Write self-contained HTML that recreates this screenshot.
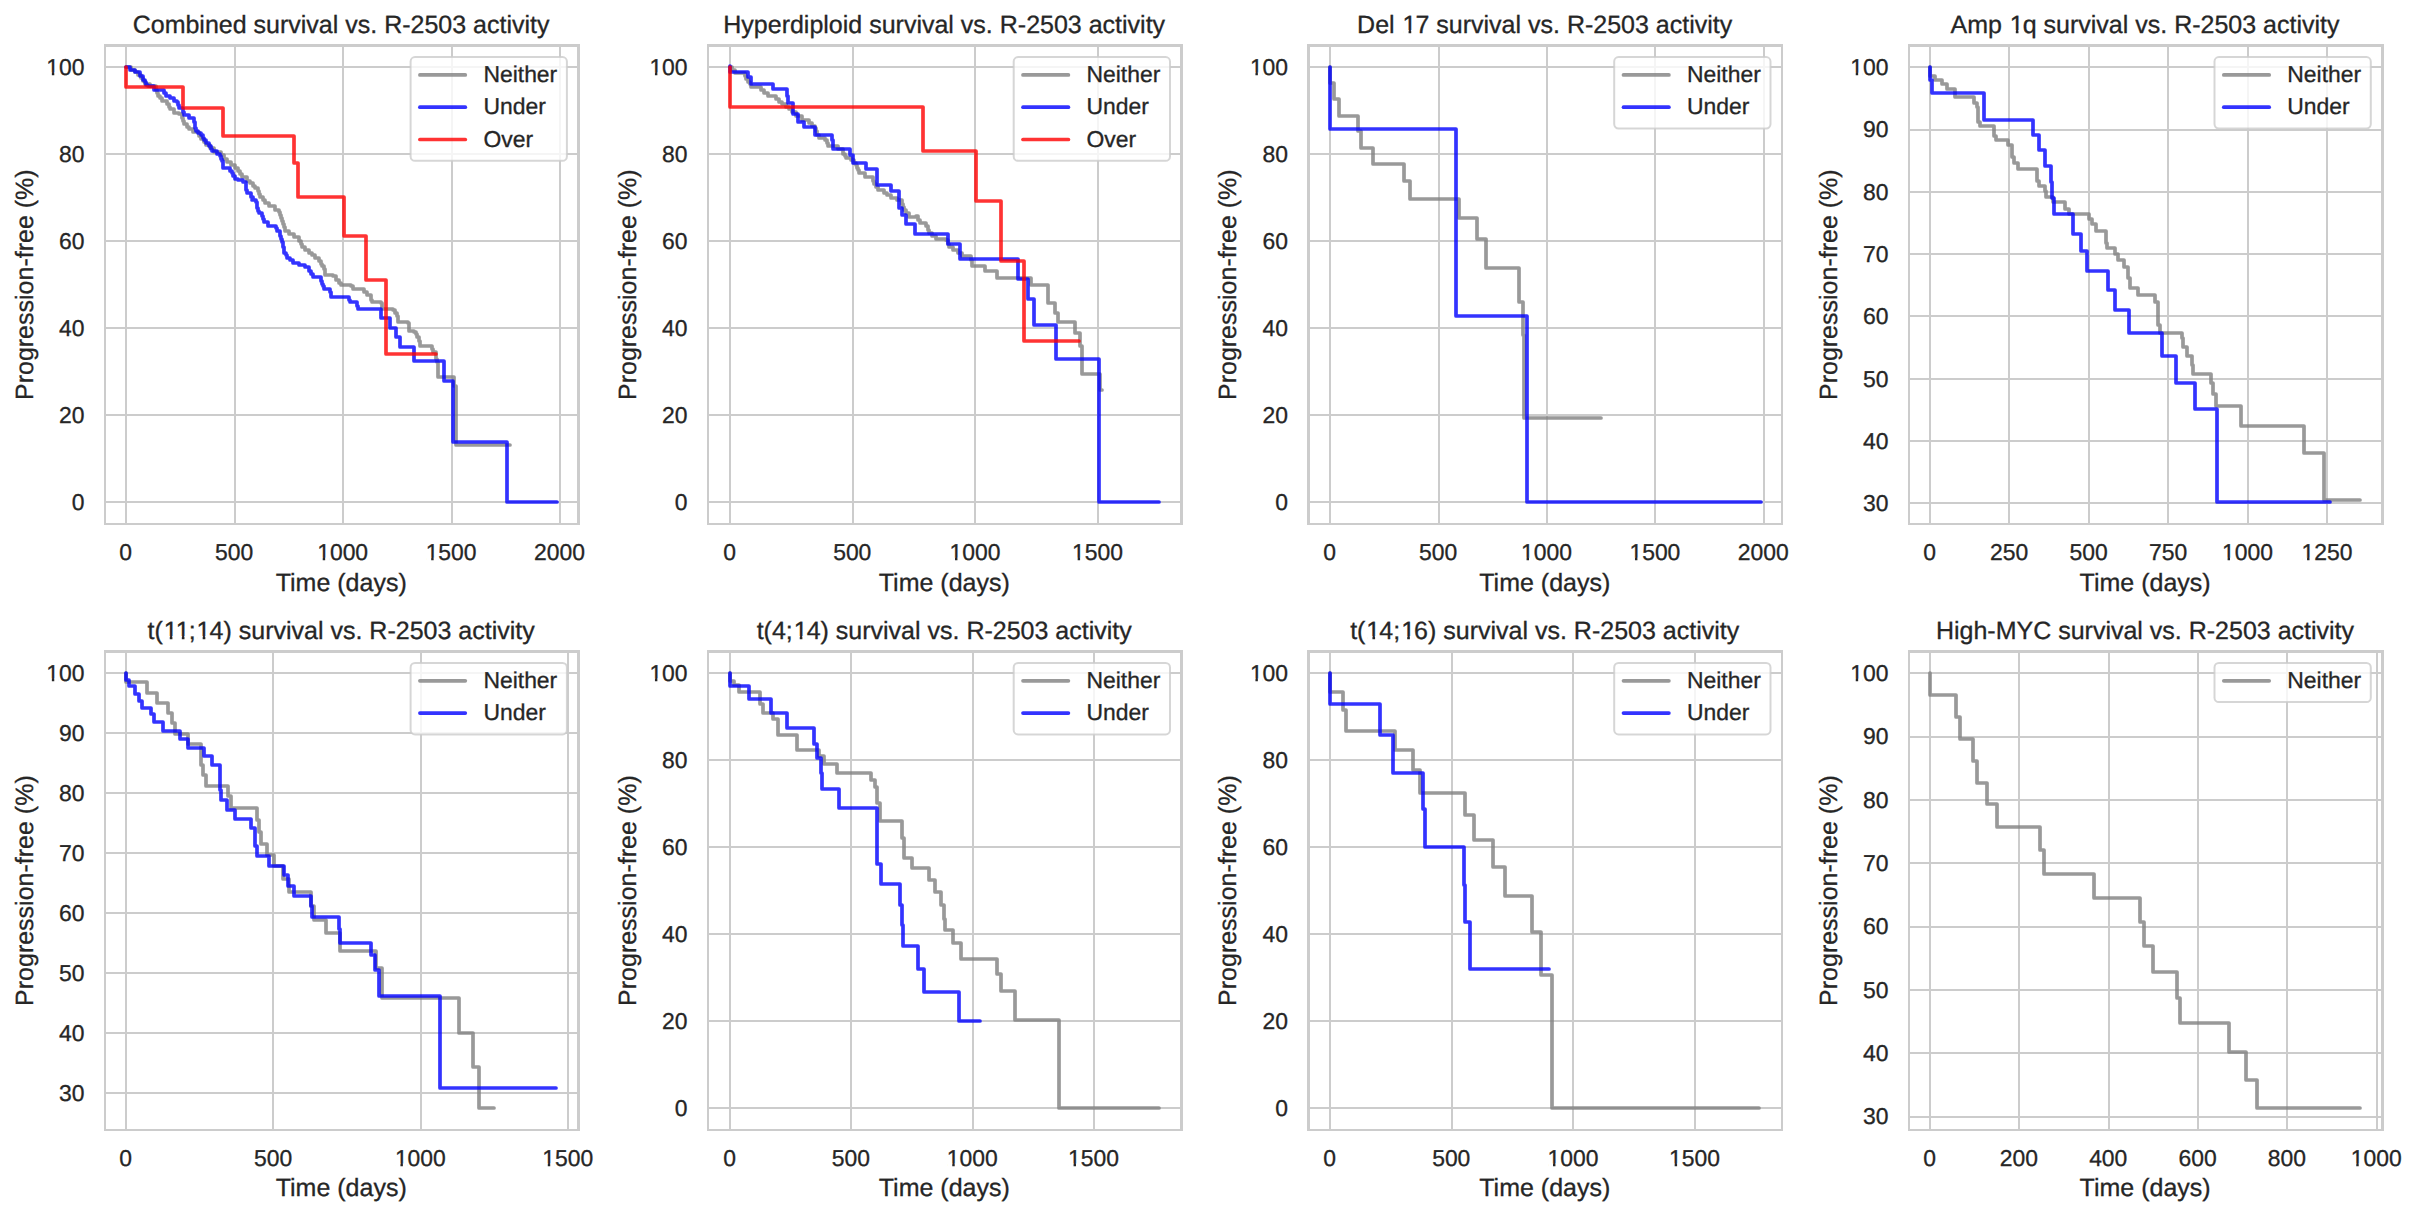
<!DOCTYPE html><html><head><meta charset="utf-8"><title>Survival vs. R-2503 activity</title>
<style>html,body{margin:0;padding:0;background:#fff;overflow:hidden;}svg{display:block;}text{font-family:"Liberation Sans", Arial, sans-serif;fill:#262626;stroke:#262626;stroke-width:0.3px;text-rendering:geometricPrecision;}</style></head><body>
<svg width="2418" height="1218" viewBox="0 0 2418 1218">
<rect width="2418" height="1218" fill="#fff"/>
<g><path d="M126 45.5V523.9M235 45.5V523.9M343 45.5V523.9M452 45.5V523.9M560 45.5V523.9M104.9 502H578.3M104.9 415H578.3M104.9 328H578.3M104.9 241H578.3M104.9 154H578.3M104.9 67H578.3" stroke="#cccccc" stroke-width="2.0" fill="none" stroke-linecap="butt"/><path d="M126 67H131 V70H135 V72H138 V75H141 V78H143 V81H145 V84H150 V86H156 V90H157 V93H158 V96H160 V98H162 V101H167 V104H169 V107H170 V109H174 V113H179 V114H182 V118H183 V121H184 V124H187 V127H189 V129H193 V132H199 V136H201 V139H204 V142H206 V145H210 V148H214 V152H221 V155H224 V159H227 V162H231 V165H235 V168H238 V171H240 V174H242 V177H247 V181H250 V183H253 V186H255 V188H258 V191H259 V194H260 V197H263 V200H265 V203H269 V206H275 V210H279 V212H280 V215H281 V218H282 V221H283 V224H284 V227H285 V231H289 V234H294 V237H299 V241H301 V244H302 V247H305 V250H309 V253H312 V255H315 V258H319 V261H321 V264H322 V266H324 V269H325 V272H325 V275H333 V276H336 V280H339 V283H341 V285H351 V286H353 V289H361 V289H364 V292H367 V295H371 V297H371 V300H372 V302H381 V303H382 V306H382 V309H393 V310H395 V313H397 V316H398 V319H398 V322H408 V323H409 V325H409 V328H409 V331H414 V332H416 V334H417 V337H419 V341H420 V343H420 V346H432 V347H432 V349H433 V352H436 V354H436 V357H436 V359H437 V362H438 V364V377H454V386H456V445H510" stroke="#808080" stroke-opacity="0.8" stroke-width="3.7" fill="none" stroke-linejoin="round" stroke-linecap="round"/><path d="M126 67H126 V67H130 V70H135 V72H140 V76H143 V80H145 V82H146 V85H148 V86H154 V90H162 V90H164 V93H166 V96H170 V98H174 V101H177 V102H178 V105H179 V108H183 V112H184 V115H189 V118H194 V122H195 V125H195 V128H196 V131H198 V133H201 V135H203 V138H204 V140H206 V143H209 V146H211 V149H212 V151H217 V154H220 V156H221 V159H222 V161H223 V164H223 V168H228 V168H230 V171H232 V173H233 V176H235 V179H238 V180H243 V182H246 V184H246 V187H246 V190H247 V193H251 V197H253 V200H252 V200H256 V202H257 V205H257 V208H258 V211H259 V213H262 V216H263 V219H264 V222H268 V226H275 V226H276 V228H277 V231H280 V233H280 V236H281 V239H282 V242H283 V245H283 V247H284 V250H284 V253H286 V255H287 V258H290 V260H293 V263H299 V265H305 V267H309 V271H311 V274H313 V277H319 V277H321 V281H322 V284H323 V286H324 V289H330 V289H330 V292H331 V294H331 V297H349 V297H349 V300H350 V302H357 V303H357 V306H358 V309H381 V309V309V318H390V328H396V337H400V347H414V361H444V381H453V442H507V502H557" stroke="#0000ff" stroke-opacity="0.8" stroke-width="3.7" fill="none" stroke-linejoin="round" stroke-linecap="round"/><path d="M126 67V87H183V108H223V136H294V163H298V197H344V236H366V280H386V354H436" stroke="#ff0000" stroke-opacity="0.8" stroke-width="3.7" fill="none" stroke-linejoin="round" stroke-linecap="round"/><path d="M104 44H580V47H104zM104 523H580V525H104zM104 44H106V525H104zM577 44H580V525H577z" fill="#cccccc"/><rect x="410.6" y="57.1" width="156.3" height="103.7" rx="4.4" ry="4.4" fill="#fff" fill-opacity="0.8" stroke="#cccccc" stroke-opacity="0.8" stroke-width="2"/><path d="M419.9 74.9H465.3" stroke="#808080" stroke-opacity="0.8" stroke-width="3.7" stroke-linecap="round"/><text x="483.4" y="81.9" font-size="22.92">Neither</text><path d="M419.9 107.2H465.3" stroke="#0000ff" stroke-opacity="0.8" stroke-width="3.7" stroke-linecap="round"/><text x="483.4" y="114.35" font-size="22.92">Under</text><path d="M419.9 139.5H465.3" stroke="#ff0000" stroke-opacity="0.8" stroke-width="3.7" stroke-linecap="round"/><text x="483.4" y="146.8" font-size="22.92">Over</text><text x="125.7" y="560.1" font-size="22.92" text-anchor="middle">0</text><text x="234.17" y="560.1" font-size="22.92" text-anchor="middle">500</text><text x="342.65" y="560.1" font-size="22.92" text-anchor="middle">1000</text><text x="451.12" y="560.1" font-size="22.92" text-anchor="middle">1500</text><text x="559.6" y="560.1" font-size="22.92" text-anchor="middle">2000</text><text x="84.5" y="509.8" font-size="22.92" text-anchor="end">0</text><text x="84.5" y="422.83" font-size="22.92" text-anchor="end">20</text><text x="84.5" y="335.86" font-size="22.92" text-anchor="end">40</text><text x="84.5" y="248.89" font-size="22.92" text-anchor="end">60</text><text x="84.5" y="161.92" font-size="22.92" text-anchor="end">80</text><text x="84.5" y="74.95" font-size="22.92" text-anchor="end">100</text><text x="341.2" y="590.5" font-size="25" text-anchor="middle">Time (days)</text><text transform="translate(32.6 284.7) rotate(-90)" font-size="25" text-anchor="middle">Progression-free (%)</text><text x="341.1" y="32.7" font-size="25" text-anchor="middle">Combined survival vs. R-2503 activity</text></g>
<g><path d="M730 45.5V523.9M853 45.5V523.9M975 45.5V523.9M1098 45.5V523.9M708 502H1181.4M708 415H1181.4M708 328H1181.4M708 241H1181.4M708 154H1181.4M708 67H1181.4" stroke="#cccccc" stroke-width="2.0" fill="none" stroke-linecap="butt"/><path d="M730 67H732 V70H735 V73H745 V76H746 V79H748 V82H750 V84H751 V87H761 V90H764 V93H768 V96H776 V99H779 V102H782 V104H786 V107H789 V109H792 V112H796 V116H802 V120H809 V123H812 V126H815 V128H816 V131H817 V135H819 V138H825 V140H827 V143H828 V146H838 V149H843 V154H845 V156H846 V158H851 V160H854 V163H856 V165H857 V168H858 V170H859 V173H865 V177H873 V181H874 V184H876 V187H878 V190H884 V193H887 V195H891 V198H897 V200H902 V204H903 V207H904 V210H906 V213H909 V217H916 V216H918 V220H920 V223H926 V226H928 V230H929 V233H932 V236H936 V239H946 V240H948 V244H949 V247H953 V250H958 V253H962 V256H971 V258H971 V260H972 V263H972 V266H985 V266H985 V268H985 V271H996 V271H997 V275H997 V278H1031V285H1048V303H1055V313H1058V322H1075V333H1080V346H1082V374H1100V390H1102" stroke="#808080" stroke-opacity="0.8" stroke-width="3.7" fill="none" stroke-linejoin="round" stroke-linecap="round"/><path d="M730 67V66V72H748V77H751V84H773V89H787V96H788V103H793V114H798V122H804V127H815V135H832V140H833V149H850V155H853V163H866V169H877V185H891V191H899V208H902V215H906V224H915V234H948V244H960V259H1018V279H1028V299H1034V325H1056V359H1099V502H1159" stroke="#0000ff" stroke-opacity="0.8" stroke-width="3.7" fill="none" stroke-linejoin="round" stroke-linecap="round"/><path d="M730 67V107H923V151H976V201H1001V261H1024V341H1079" stroke="#ff0000" stroke-opacity="0.8" stroke-width="3.7" fill="none" stroke-linejoin="round" stroke-linecap="round"/><path d="M707 44H1183V47H707zM707 523H1183V525H707zM707 44H709V525H707zM1180 44H1183V525H1180z" fill="#cccccc"/><rect x="1013.7" y="57.1" width="156.3" height="103.7" rx="4.4" ry="4.4" fill="#fff" fill-opacity="0.8" stroke="#cccccc" stroke-opacity="0.8" stroke-width="2"/><path d="M1023 74.9H1068.4" stroke="#808080" stroke-opacity="0.8" stroke-width="3.7" stroke-linecap="round"/><text x="1086.5" y="81.9" font-size="22.92">Neither</text><path d="M1023 107.2H1068.4" stroke="#0000ff" stroke-opacity="0.8" stroke-width="3.7" stroke-linecap="round"/><text x="1086.5" y="114.35" font-size="22.92">Under</text><path d="M1023 139.5H1068.4" stroke="#ff0000" stroke-opacity="0.8" stroke-width="3.7" stroke-linecap="round"/><text x="1086.5" y="146.8" font-size="22.92">Over</text><text x="729.6" y="560.1" font-size="22.92" text-anchor="middle">0</text><text x="852.26" y="560.1" font-size="22.92" text-anchor="middle">500</text><text x="974.93" y="560.1" font-size="22.92" text-anchor="middle">1000</text><text x="1097.59" y="560.1" font-size="22.92" text-anchor="middle">1500</text><text x="687.6" y="509.8" font-size="22.92" text-anchor="end">0</text><text x="687.6" y="422.83" font-size="22.92" text-anchor="end">20</text><text x="687.6" y="335.86" font-size="22.92" text-anchor="end">40</text><text x="687.6" y="248.89" font-size="22.92" text-anchor="end">60</text><text x="687.6" y="161.92" font-size="22.92" text-anchor="end">80</text><text x="687.6" y="74.95" font-size="22.92" text-anchor="end">100</text><text x="944.3" y="590.5" font-size="25" text-anchor="middle">Time (days)</text><text transform="translate(635.7 284.7) rotate(-90)" font-size="25" text-anchor="middle">Progression-free (%)</text><text x="944.2" y="32.7" font-size="25" text-anchor="middle">Hyperdiploid survival vs. R-2503 activity</text></g>
<g><path d="M1330 45.5V523.9M1439 45.5V523.9M1547 45.5V523.9M1655 45.5V523.9M1764 45.5V523.9M1308.5 502H1781.9M1308.5 415H1781.9M1308.5 328H1781.9M1308.5 241H1781.9M1308.5 154H1781.9M1308.5 67H1781.9" stroke="#cccccc" stroke-width="2.0" fill="none" stroke-linecap="butt"/><path d="M1330 67V83H1334V99H1339V116H1358V131H1361V148H1373V164H1404V181H1410V199H1459V218H1477V239H1486V268H1519V302H1523V335H1524V418H1601" stroke="#808080" stroke-opacity="0.8" stroke-width="3.7" fill="none" stroke-linejoin="round" stroke-linecap="round"/><path d="M1330 67V129H1456V316H1527V502H1761" stroke="#0000ff" stroke-opacity="0.8" stroke-width="3.7" fill="none" stroke-linejoin="round" stroke-linecap="round"/><path d="M1307 44H1783V47H1307zM1307 523H1783V525H1307zM1307 44H1310V525H1307zM1781 44H1783V525H1781z" fill="#cccccc"/><rect x="1614.2" y="57.1" width="156.3" height="71.4" rx="4.4" ry="4.4" fill="#fff" fill-opacity="0.8" stroke="#cccccc" stroke-opacity="0.8" stroke-width="2"/><path d="M1623.5 74.9H1668.9" stroke="#808080" stroke-opacity="0.8" stroke-width="3.7" stroke-linecap="round"/><text x="1687" y="81.9" font-size="22.92">Neither</text><path d="M1623.5 107.2H1668.9" stroke="#0000ff" stroke-opacity="0.8" stroke-width="3.7" stroke-linecap="round"/><text x="1687" y="114.35" font-size="22.92">Under</text><text x="1329.7" y="560.1" font-size="22.92" text-anchor="middle">0</text><text x="1438.1" y="560.1" font-size="22.92" text-anchor="middle">500</text><text x="1546.5" y="560.1" font-size="22.92" text-anchor="middle">1000</text><text x="1654.9" y="560.1" font-size="22.92" text-anchor="middle">1500</text><text x="1763.3" y="560.1" font-size="22.92" text-anchor="middle">2000</text><text x="1288.1" y="509.8" font-size="22.92" text-anchor="end">0</text><text x="1288.1" y="422.83" font-size="22.92" text-anchor="end">20</text><text x="1288.1" y="335.86" font-size="22.92" text-anchor="end">40</text><text x="1288.1" y="248.89" font-size="22.92" text-anchor="end">60</text><text x="1288.1" y="161.92" font-size="22.92" text-anchor="end">80</text><text x="1288.1" y="74.95" font-size="22.92" text-anchor="end">100</text><text x="1544.8" y="590.5" font-size="25" text-anchor="middle">Time (days)</text><text transform="translate(1236.2 284.7) rotate(-90)" font-size="25" text-anchor="middle">Progression-free (%)</text><text x="1544.7" y="32.7" font-size="25" text-anchor="middle">Del <tspan dx="0.92">1</tspan><tspan dx="-0.92">7</tspan> survival vs. R-2503 activity</text></g>
<g><path d="M1930 45.5V523.9M2009 45.5V523.9M2089 45.5V523.9M2168 45.5V523.9M2248 45.5V523.9M2327 45.5V523.9M1908.8 503H2382.2M1908.8 441H2382.2M1908.8 379H2382.2M1908.8 316H2382.2M1908.8 254H2382.2M1908.8 192H2382.2M1908.8 130H2382.2M1908.8 67H2382.2" stroke="#cccccc" stroke-width="2.0" fill="none" stroke-linecap="butt"/><path d="M1930 67V76H1935V80H1942V84H1947V89H1955V97H1974V103H1977V107H1978V122H1980V126H1994V136H1996V140H2008V145H2012V157H2014V163H2018V169H2037V181H2039V186H2045V191H2046V197H2053V202H2065V209H2069V214H2089V219H2092V224H2096V231H2106V243H2107V248H2115V254H2118V260H2124V267H2128V278H2130V288H2138V295H2155V302H2158V325H2160V333H2182V338H2183V347H2187V356H2192V365H2193V374H2211V383H2213V394H2216V406H2241V426H2304V453H2324V500H2360" stroke="#808080" stroke-opacity="0.8" stroke-width="3.7" fill="none" stroke-linejoin="round" stroke-linecap="round"/><path d="M1930 67V80H1932V93H1984V120H2033V135H2039V150H2045V166H2051V182H2052V198H2054V214H2073V234H2081V251H2087V271H2108V290H2115V310H2129V333H2162V356H2176V383H2195V409H2217V502H2330" stroke="#0000ff" stroke-opacity="0.8" stroke-width="3.7" fill="none" stroke-linejoin="round" stroke-linecap="round"/><path d="M1908 44H2384V47H1908zM1908 523H2384V525H1908zM1908 44H1910V525H1908zM2381 44H2384V525H2381z" fill="#cccccc"/><rect x="2214.5" y="57.1" width="156.3" height="71.4" rx="4.4" ry="4.4" fill="#fff" fill-opacity="0.8" stroke="#cccccc" stroke-opacity="0.8" stroke-width="2"/><path d="M2223.8 74.9H2269.2" stroke="#808080" stroke-opacity="0.8" stroke-width="3.7" stroke-linecap="round"/><text x="2287.3" y="81.9" font-size="22.92">Neither</text><path d="M2223.8 107.2H2269.2" stroke="#0000ff" stroke-opacity="0.8" stroke-width="3.7" stroke-linecap="round"/><text x="2287.3" y="114.35" font-size="22.92">Under</text><text x="1929.6" y="560.1" font-size="22.92" text-anchor="middle">0</text><text x="2009.08" y="560.1" font-size="22.92" text-anchor="middle">250</text><text x="2088.56" y="560.1" font-size="22.92" text-anchor="middle">500</text><text x="2168.04" y="560.1" font-size="22.92" text-anchor="middle">750</text><text x="2247.52" y="560.1" font-size="22.92" text-anchor="middle">1000</text><text x="2327" y="560.1" font-size="22.92" text-anchor="middle">1250</text><text x="1888.4" y="511.2" font-size="22.92" text-anchor="end">30</text><text x="1888.4" y="448.92" font-size="22.92" text-anchor="end">40</text><text x="1888.4" y="386.63" font-size="22.92" text-anchor="end">50</text><text x="1888.4" y="324.34" font-size="22.92" text-anchor="end">60</text><text x="1888.4" y="262.06" font-size="22.92" text-anchor="end">70</text><text x="1888.4" y="199.77" font-size="22.92" text-anchor="end">80</text><text x="1888.4" y="137.49" font-size="22.92" text-anchor="end">90</text><text x="1888.4" y="75.2" font-size="22.92" text-anchor="end">100</text><text x="2145.1" y="590.5" font-size="25" text-anchor="middle">Time (days)</text><text transform="translate(1836.5 284.7) rotate(-90)" font-size="25" text-anchor="middle">Progression-free (%)</text><text x="2145" y="32.7" font-size="25" text-anchor="middle">Amp <tspan dx="0.92">1</tspan><tspan dx="-0.92">q</tspan> survival vs. R-2503 activity</text></g>
<g><path d="M126 651.4V1129.8M273 651.4V1129.8M421 651.4V1129.8M568 651.4V1129.8M104.9 1093H578.3M104.9 1033H578.3M104.9 973H578.3M104.9 913H578.3M104.9 853H578.3M104.9 793H578.3M104.9 733H578.3M104.9 673H578.3" stroke="#cccccc" stroke-width="2.0" fill="none" stroke-linecap="butt"/><path d="M126 673V682H147V693H157V703H168V713H172V723H175V734H188V744H201V765H203V775H206V786H228V796H231V808H257V820H259V832H261V844H267V855H274V866H283V879H289V892H311V906H314V920H326V933H340V951H376V968H382V998H459V1033H473V1067H479V1108H494" stroke="#808080" stroke-opacity="0.8" stroke-width="3.7" fill="none" stroke-linejoin="round" stroke-linecap="round"/><path d="M126 673V680H129V686H135V694H139V701H142V708H151V714H154V722H163V731H180V739H188V748H204V756H212V765H220V790H221V800H227V810H235V819H251V828H255V846H257V856H269V866H284V875H288V886H294V896H311V906H312V917H339V929H340V943H371V955H375V970H379V996H440V1088H556" stroke="#0000ff" stroke-opacity="0.8" stroke-width="3.7" fill="none" stroke-linejoin="round" stroke-linecap="round"/><path d="M104 650H580V653H104zM104 1129H580V1131H104zM104 650H106V1131H104zM577 650H580V1131H577z" fill="#cccccc"/><rect x="410.6" y="663" width="156.3" height="71.4" rx="4.4" ry="4.4" fill="#fff" fill-opacity="0.8" stroke="#cccccc" stroke-opacity="0.8" stroke-width="2"/><path d="M419.9 680.8H465.3" stroke="#808080" stroke-opacity="0.8" stroke-width="3.7" stroke-linecap="round"/><text x="483.4" y="687.8" font-size="22.92">Neither</text><path d="M419.9 713.1H465.3" stroke="#0000ff" stroke-opacity="0.8" stroke-width="3.7" stroke-linecap="round"/><text x="483.4" y="720.25" font-size="22.92">Under</text><text x="125.7" y="1166" font-size="22.92" text-anchor="middle">0</text><text x="273.03" y="1166" font-size="22.92" text-anchor="middle">500</text><text x="420.37" y="1166" font-size="22.92" text-anchor="middle">1000</text><text x="567.71" y="1166" font-size="22.92" text-anchor="middle">1500</text><text x="84.5" y="1100.8" font-size="22.92" text-anchor="end">30</text><text x="84.5" y="1040.8" font-size="22.92" text-anchor="end">40</text><text x="84.5" y="980.8" font-size="22.92" text-anchor="end">50</text><text x="84.5" y="920.8" font-size="22.92" text-anchor="end">60</text><text x="84.5" y="860.8" font-size="22.92" text-anchor="end">70</text><text x="84.5" y="800.8" font-size="22.92" text-anchor="end">80</text><text x="84.5" y="740.8" font-size="22.92" text-anchor="end">90</text><text x="84.5" y="680.8" font-size="22.92" text-anchor="end">100</text><text x="341.2" y="1196.4" font-size="25" text-anchor="middle">Time (days)</text><text transform="translate(32.6 890.6) rotate(-90)" font-size="25" text-anchor="middle">Progression-free (%)</text><text x="341.1" y="638.6" font-size="25" text-anchor="middle">t(<tspan dx="0.92">1</tspan>1<tspan dx="-0.92">;</tspan><tspan dx="0.92">1</tspan><tspan dx="-0.92">4</tspan>) survival vs. R-2503 activity</text></g>
<g><path d="M730 651.4V1129.8M851 651.4V1129.8M973 651.4V1129.8M1094 651.4V1129.8M708 1108H1181.4M708 1021H1181.4M708 934H1181.4M708 847H1181.4M708 760H1181.4M708 673H1181.4" stroke="#cccccc" stroke-width="2.0" fill="none" stroke-linecap="butt"/><path d="M730 673V681H734V685H739V692H760V704H763V713H773V719H778V735H797V750H819V756H824V764H837V773H871V780H875V787H877V803H880V821H902V838H904V858H912V868H929V880H935V892H941V905H944V919H945V930H953V943H961V959H997V974H1001V991H1015V1020H1059V1108H1159" stroke="#808080" stroke-opacity="0.8" stroke-width="3.7" fill="none" stroke-linejoin="round" stroke-linecap="round"/><path d="M730 673V686H749V699H771V713H787V728H814V744H817V758H821V773H822V789H839V808H877V827H877V864H881V884H900V905H902V925H903V946H918V969H924V992H959V1021H980" stroke="#0000ff" stroke-opacity="0.8" stroke-width="3.7" fill="none" stroke-linejoin="round" stroke-linecap="round"/><path d="M707 650H1183V653H707zM707 1129H1183V1131H707zM707 650H709V1131H707zM1180 650H1183V1131H1180z" fill="#cccccc"/><rect x="1013.7" y="663" width="156.3" height="71.4" rx="4.4" ry="4.4" fill="#fff" fill-opacity="0.8" stroke="#cccccc" stroke-opacity="0.8" stroke-width="2"/><path d="M1023 680.8H1068.4" stroke="#808080" stroke-opacity="0.8" stroke-width="3.7" stroke-linecap="round"/><text x="1086.5" y="687.8" font-size="22.92">Neither</text><path d="M1023 713.1H1068.4" stroke="#0000ff" stroke-opacity="0.8" stroke-width="3.7" stroke-linecap="round"/><text x="1086.5" y="720.25" font-size="22.92">Under</text><text x="729.6" y="1166" font-size="22.92" text-anchor="middle">0</text><text x="850.9" y="1166" font-size="22.92" text-anchor="middle">500</text><text x="972.2" y="1166" font-size="22.92" text-anchor="middle">1000</text><text x="1093.5" y="1166" font-size="22.92" text-anchor="middle">1500</text><text x="687.6" y="1115.9" font-size="22.92" text-anchor="end">0</text><text x="687.6" y="1028.9" font-size="22.92" text-anchor="end">20</text><text x="687.6" y="941.9" font-size="22.92" text-anchor="end">40</text><text x="687.6" y="854.9" font-size="22.92" text-anchor="end">60</text><text x="687.6" y="767.9" font-size="22.92" text-anchor="end">80</text><text x="687.6" y="680.9" font-size="22.92" text-anchor="end">100</text><text x="944.3" y="1196.4" font-size="25" text-anchor="middle">Time (days)</text><text transform="translate(635.7 890.6) rotate(-90)" font-size="25" text-anchor="middle">Progression-free (%)</text><text x="944.2" y="638.6" font-size="25" text-anchor="middle">t(4;<tspan dx="0.92">1</tspan><tspan dx="-0.92">4</tspan>) survival vs. R-2503 activity</text></g>
<g><path d="M1330 651.4V1129.8M1452 651.4V1129.8M1573 651.4V1129.8M1695 651.4V1129.8M1308.5 1108H1781.9M1308.5 1021H1781.9M1308.5 934H1781.9M1308.5 847H1781.9M1308.5 760H1781.9M1308.5 673H1781.9" stroke="#cccccc" stroke-width="2.0" fill="none" stroke-linecap="butt"/><path d="M1330 673V692H1343V710H1346V731H1395V750H1413V770H1420V793H1465V815H1474V840H1493V867H1505V896H1532V932H1541V975H1552V1108H1759" stroke="#808080" stroke-opacity="0.8" stroke-width="3.7" fill="none" stroke-linejoin="round" stroke-linecap="round"/><path d="M1330 673V704H1380V735H1393V773H1423V809H1425V847H1464V885H1465V922H1470V969H1549" stroke="#0000ff" stroke-opacity="0.8" stroke-width="3.7" fill="none" stroke-linejoin="round" stroke-linecap="round"/><path d="M1307 650H1783V653H1307zM1307 1129H1783V1131H1307zM1307 650H1310V1131H1307zM1781 650H1783V1131H1781z" fill="#cccccc"/><rect x="1614.2" y="663" width="156.3" height="71.4" rx="4.4" ry="4.4" fill="#fff" fill-opacity="0.8" stroke="#cccccc" stroke-opacity="0.8" stroke-width="2"/><path d="M1623.5 680.8H1668.9" stroke="#808080" stroke-opacity="0.8" stroke-width="3.7" stroke-linecap="round"/><text x="1687" y="687.8" font-size="22.92">Neither</text><path d="M1623.5 713.1H1668.9" stroke="#0000ff" stroke-opacity="0.8" stroke-width="3.7" stroke-linecap="round"/><text x="1687" y="720.25" font-size="22.92">Under</text><text x="1329.6" y="1166" font-size="22.92" text-anchor="middle">0</text><text x="1451.26" y="1166" font-size="22.92" text-anchor="middle">500</text><text x="1572.93" y="1166" font-size="22.92" text-anchor="middle">1000</text><text x="1694.59" y="1166" font-size="22.92" text-anchor="middle">1500</text><text x="1288.1" y="1115.9" font-size="22.92" text-anchor="end">0</text><text x="1288.1" y="1028.9" font-size="22.92" text-anchor="end">20</text><text x="1288.1" y="941.9" font-size="22.92" text-anchor="end">40</text><text x="1288.1" y="854.9" font-size="22.92" text-anchor="end">60</text><text x="1288.1" y="767.9" font-size="22.92" text-anchor="end">80</text><text x="1288.1" y="680.9" font-size="22.92" text-anchor="end">100</text><text x="1544.8" y="1196.4" font-size="25" text-anchor="middle">Time (days)</text><text transform="translate(1236.2 890.6) rotate(-90)" font-size="25" text-anchor="middle">Progression-free (%)</text><text x="1544.7" y="638.6" font-size="25" text-anchor="middle">t(<tspan dx="0.92">1</tspan><tspan dx="-0.92">4</tspan>;<tspan dx="0.92">1</tspan><tspan dx="-0.92">6</tspan>) survival vs. R-2503 activity</text></g>
<g><path d="M1930 651.4V1129.8M2019 651.4V1129.8M2109 651.4V1129.8M2198 651.4V1129.8M2287 651.4V1129.8M2377 651.4V1129.8M1908.8 1117H2382.2M1908.8 1053H2382.2M1908.8 990H2382.2M1908.8 927H2382.2M1908.8 863H2382.2M1908.8 800H2382.2M1908.8 737H2382.2M1908.8 673H2382.2" stroke="#cccccc" stroke-width="2.0" fill="none" stroke-linecap="butt"/><path d="M1930 673V695H1956V717H1960V739H1973V761H1977V783H1987V804H1997V827H2040V850H2044V874H2094V898H2140V922H2144V946H2153V972H2177V998H2180V1023H2229V1052H2246V1080H2257V1108H2360" stroke="#808080" stroke-opacity="0.8" stroke-width="3.7" fill="none" stroke-linejoin="round" stroke-linecap="round"/><path d="M1908 650H2384V653H1908zM1908 1129H2384V1131H1908zM1908 650H1910V1131H1908zM2381 650H2384V1131H2381z" fill="#cccccc"/><rect x="2214.5" y="663" width="156.3" height="39.1" rx="4.4" ry="4.4" fill="#fff" fill-opacity="0.8" stroke="#cccccc" stroke-opacity="0.8" stroke-width="2"/><path d="M2223.8 680.8H2269.2" stroke="#808080" stroke-opacity="0.8" stroke-width="3.7" stroke-linecap="round"/><text x="2287.3" y="687.8" font-size="22.92">Neither</text><text x="1929.6" y="1166" font-size="22.92" text-anchor="middle">0</text><text x="2018.92" y="1166" font-size="22.92" text-anchor="middle">200</text><text x="2108.24" y="1166" font-size="22.92" text-anchor="middle">400</text><text x="2197.56" y="1166" font-size="22.92" text-anchor="middle">600</text><text x="2286.88" y="1166" font-size="22.92" text-anchor="middle">800</text><text x="2376.2" y="1166" font-size="22.92" text-anchor="middle">1000</text><text x="1888.4" y="1124.48" font-size="22.92" text-anchor="end">30</text><text x="1888.4" y="1061.14" font-size="22.92" text-anchor="end">40</text><text x="1888.4" y="997.8" font-size="22.92" text-anchor="end">50</text><text x="1888.4" y="934.46" font-size="22.92" text-anchor="end">60</text><text x="1888.4" y="871.12" font-size="22.92" text-anchor="end">70</text><text x="1888.4" y="807.78" font-size="22.92" text-anchor="end">80</text><text x="1888.4" y="744.44" font-size="22.92" text-anchor="end">90</text><text x="1888.4" y="681.1" font-size="22.92" text-anchor="end">100</text><text x="2145.1" y="1196.4" font-size="25" text-anchor="middle">Time (days)</text><text transform="translate(1836.5 890.6) rotate(-90)" font-size="25" text-anchor="middle">Progression-free (%)</text><text x="2145" y="638.6" font-size="25" text-anchor="middle">High-MYC survival vs. R-2503 activity</text></g>
<path fill="#fff" d="M317.90 557.72h4.82v4.85h-4.82zM325.16 557.72h4.64v4.85h-4.64zM426.37 557.72h4.82v4.85h-4.82zM433.63 557.72h4.64v4.85h-4.64zM47.02 72.57h4.82v4.85h-4.82zM54.27 72.57h4.64v4.85h-4.64zM950.18 557.72h4.82v4.85h-4.82zM957.44 557.72h4.64v4.85h-4.64zM1072.84 557.72h4.82v4.85h-4.82zM1080.10 557.72h4.64v4.85h-4.64zM650.12 72.57h4.82v4.85h-4.82zM657.37 72.57h4.64v4.85h-4.64zM1521.75 557.72h4.82v4.85h-4.82zM1529.01 557.72h4.64v4.85h-4.64zM1630.15 557.72h4.82v4.85h-4.82zM1637.41 557.72h4.64v4.85h-4.64zM1250.62 72.57h4.82v4.85h-4.82zM1257.87 72.57h4.64v4.85h-4.64zM1403.32 30.10h5.26v5.29h-5.26zM1411.23 30.10h5.07v5.29h-5.07zM2222.77 557.72h4.82v4.85h-4.82zM2230.03 557.72h4.64v4.85h-4.64zM2302.25 557.72h4.82v4.85h-4.82zM2309.51 557.72h4.64v4.85h-4.64zM1850.92 72.82h4.82v4.85h-4.82zM1858.17 72.82h4.64v4.85h-4.64zM2010.56 30.10h5.26v5.29h-5.26zM2018.47 30.10h5.07v5.29h-5.07zM395.62 1163.62h4.82v4.85h-4.82zM402.88 1163.62h4.64v4.85h-4.64zM542.96 1163.62h4.82v4.85h-4.82zM550.22 1163.62h4.64v4.85h-4.64zM47.02 678.42h4.82v4.85h-4.82zM54.27 678.42h4.64v4.85h-4.64zM164.50 636.00h5.26v5.29h-5.26zM172.41 636.00h5.07v5.29h-5.07zM176.56 636.00h5.26v5.29h-5.26zM184.47 636.00h5.07v5.29h-5.07zM197.42 636.00h5.26v5.29h-5.26zM205.33 636.00h5.07v5.29h-5.07zM947.45 1163.62h4.82v4.85h-4.82zM954.71 1163.62h4.64v4.85h-4.64zM1068.75 1163.62h4.82v4.85h-4.82zM1076.01 1163.62h4.64v4.85h-4.64zM650.12 678.52h4.82v4.85h-4.82zM657.37 678.52h4.64v4.85h-4.64zM794.48 636.00h5.26v5.29h-5.26zM802.39 636.00h5.07v5.29h-5.07zM1548.18 1163.62h4.82v4.85h-4.82zM1555.44 1163.62h4.64v4.85h-4.64zM1669.84 1163.62h4.82v4.85h-4.82zM1677.10 1163.62h4.64v4.85h-4.64zM1250.62 678.52h4.82v4.85h-4.82zM1257.87 678.52h4.64v4.85h-4.64zM1367.18 636.00h5.26v5.29h-5.26zM1375.09 636.00h5.07v5.29h-5.07zM1401.94 636.00h5.26v5.29h-5.26zM1409.85 636.00h5.07v5.29h-5.07zM2351.45 1163.62h4.82v4.85h-4.82zM2358.71 1163.62h4.64v4.85h-4.64zM1850.92 678.72h4.82v4.85h-4.82zM1858.17 678.72h4.64v4.85h-4.64z"/>
</svg></body></html>
